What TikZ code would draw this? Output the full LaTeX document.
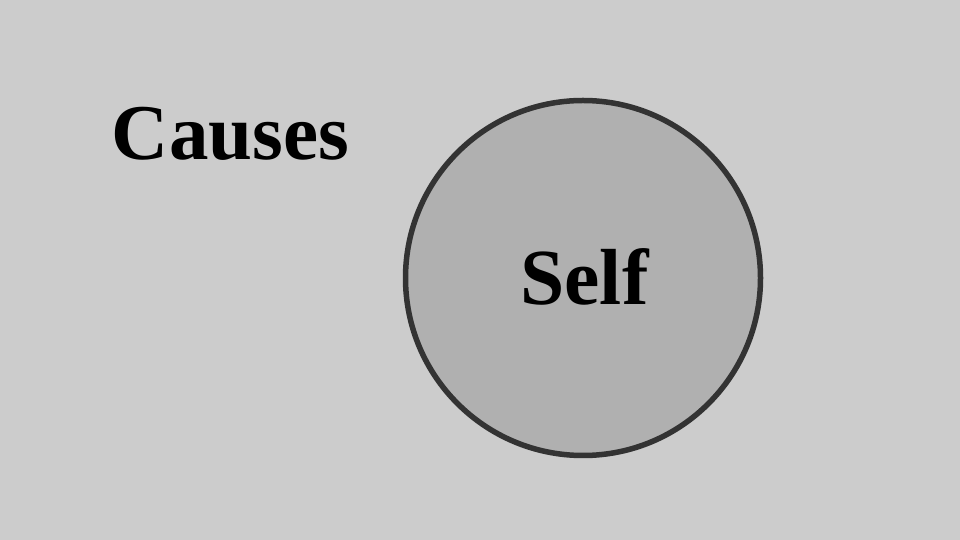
\documentclass[tikz,border=0pt]{standalone}
\usepackage{fontspec}
\setmainfont{Liberation Serif}
\usepackage{tikz}
\definecolor{bgray}{HTML}{CCCCCC}
\definecolor{cgray}{HTML}{B0B0B0}
\definecolor{edge}{HTML}{333333}

\begin{document}
\begin{tikzpicture}[x=1pt, y=1pt]
\fill[bgray] (0,0) rectangle (960,540);
\useasboundingbox (0,0) rectangle (960,540);
\node (self) [circle, draw=edge, fill=cgray, line width=5.5pt, minimum size=355pt] at (583,262) {};
\node (selflabel) [anchor=base] at (584.5,235) {\fontsize{79.5}{86}\selectfont\bfseries Self};
\node (causes) [anchor=base] at (230.5,380) {\fontsize{79}{86}\selectfont\bfseries Causes};
\end{tikzpicture}
\end{document}
